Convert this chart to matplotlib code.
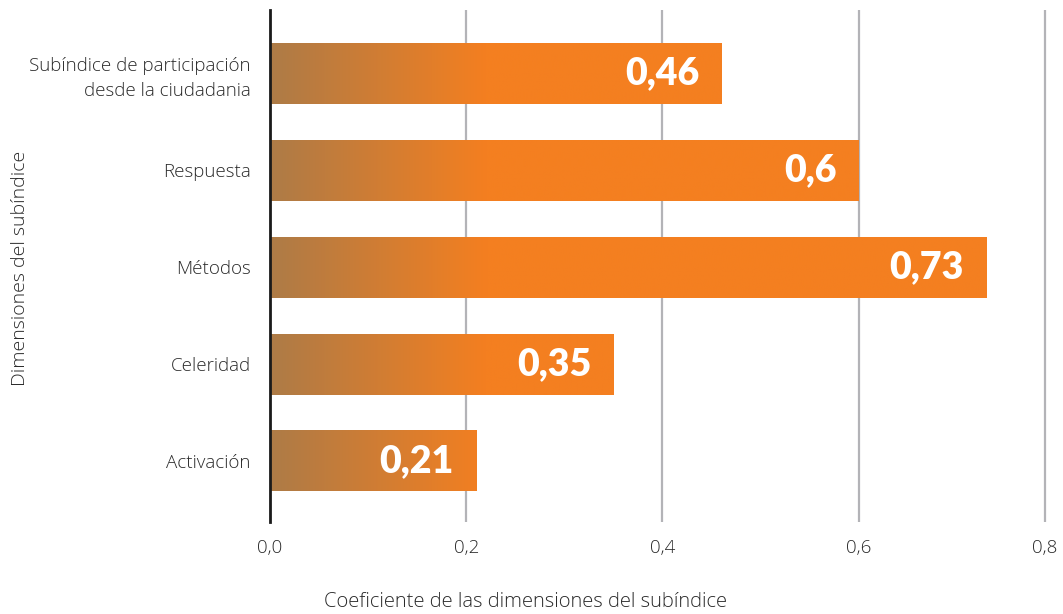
import matplotlib.pyplot as plt
import numpy as np
from matplotlib.colors import to_rgb

categories = ["Subíndice de participación\ndesde la ciudadania", "Respuesta",
              "Métodos", "Celeridad", "Activación"]
values = [0.46, 0.6, 0.73, 0.35, 0.21]
value_labels = ["0,46", "0,6", "0,73", "0,35", "0,21"]
# last gridline sits on the right edge of the plot area
xticks = [0.0, 0.2, 0.4, 0.6, 0.79]
xtick_labels = ["0,0", "0,2", "0,4", "0,6", "0,8"]

BROWN = np.array(to_rgb("#ad7b47"))
ORANGE = np.array(to_rgb("#f47f20"))
FADE_END = 0.22  # gradient reaches full orange here (data units)

plt.rcParams['font.family'] = ['Open Sans', 'DejaVu Sans']

fig = plt.figure(figsize=(10.63, 6.14), dpi=100)
ax = fig.add_axes([270 / 1063, (614 - 522) / 614, (1047 - 270) / 1063, (522 - 10) / 614])

ypos = np.arange(len(categories))
bar_h = 0.63
for y, v, lab in zip(ypos, values, value_labels):
    patch = ax.barh(y, v, height=bar_h, color=ORANGE, zorder=3)[0]
    xs = np.linspace(0, v, 400)
    t = np.clip(xs / FADE_END, 0, 1)[:, None]
    row = BROWN * (1 - t) + ORANGE * t
    img = ax.imshow(row[None, :, :], extent=(0, v, y + bar_h / 2, y - bar_h / 2),
                    aspect='auto', zorder=4, interpolation='bilinear')
    img.set_clip_path(patch)
    ax.annotate(lab, xy=(v, y), xytext=(-16, 0), textcoords='offset points',
                ha='right', va='center', color='white', fontsize=27,
                fontweight='heavy', family=['Lato', 'DejaVu Sans'], zorder=5)

ax.set_xlim(0, 0.792)
ax.set_ylim(len(categories) - 1 + 0.63, -0.655)
ax.set_xticks(xticks)
ax.set_xticklabels(xtick_labels, fontsize=13.5, color='#2a2a2a', fontweight='light')
ax.set_yticks(ypos)
ax.set_yticklabels(categories, fontsize=13.5, color='#2a2a2a', fontweight='light',
                   ha='right', multialignment='right', linespacing=1.45)
ax.tick_params(axis='both', length=0)
ax.tick_params(axis='x', pad=12)
ax.tick_params(axis='y', pad=14)

for x in xticks[1:]:
    ax.axvline(x, color='#b3b3b7', lw=1.6, zorder=1)
for s in ['top', 'right', 'bottom']:
    ax.spines[s].set_visible(False)
ax.spines['left'].set_color('#1a1a1a')
ax.spines['left'].set_linewidth(2)
ax.spines['left'].set_zorder(6)

fig.text(526 / 1063, 1 - 602 / 614, "Coeficiente de las dimensiones del subíndice",
         ha='center', va='center', fontsize=14.5, color='#2a2a2a', fontweight='light')
fig.text(20 / 1063, 1 - 268 / 614, "Dimensiones del subíndice", rotation=90,
         ha='center', va='center', fontsize=14, color='#2a2a2a', fontweight='light')

fig.savefig("out.png", dpi=100)
